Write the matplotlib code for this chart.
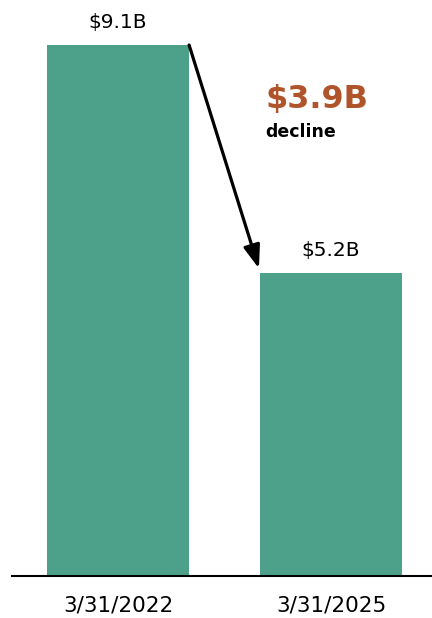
import matplotlib
matplotlib.use("Agg")
import matplotlib.pyplot as plt

categories = ["3/31/2022", "3/31/2025"]
values = [9.1, 5.2]
value_labels = ["$9.1B", "$5.2B"]
change_label = "$3.9B"
change_sub = "decline"

bar_color = "#4DA08A"
accent = "#B0552B"

plt.rcParams['font.family'] = ['DejaVu Sans']

fig = plt.figure(figsize=(4.32, 6.18), dpi=100)
ax = fig.add_axes([12/432, 1 - 576/618, 420/432, 576/618])

x = [0, 1]
width = 0.667
ax.bar(x, values, width=width, color=bar_color)
ax.set_xlim(-0.498, 1.474)
ax.set_ylim(0, 576/58.35)

for xi, v, lab in zip(x, values, value_labels):
    ax.annotate(lab, (xi, v), xytext=(0, 12), textcoords="offset points",
                ha="center", va="baseline", fontsize=14.5, color="black")

ax.annotate("", xy=(1 - width/2 - 0.005, values[1] + 0.07),
            xytext=(0 + width/2, values[0]),
            arrowprops=dict(arrowstyle="-|>,head_length=1.4,head_width=0.5",
                            color="black", lw=2.3, shrinkA=0, shrinkB=0))

fig.text(266/432, 1 - 108/618, change_label, fontsize=23, fontweight="bold",
         color=accent, ha="left", va="baseline")
fig.text(265/432, 1 - 137/618, change_sub, fontsize=12.5, fontweight="bold",
         color="black", ha="left", va="baseline")

ax.set_xticks(x)
ax.set_xticklabels(categories, fontsize=15.5)
ax.tick_params(axis="x", length=0, pad=14)
ax.set_yticks([])
for s in ["top", "right", "left"]:
    ax.spines[s].set_visible(False)
ax.spines["bottom"].set_linewidth(1.5)
ax.spines["bottom"].set_color("black")

fig.savefig("out.png", dpi=100)
